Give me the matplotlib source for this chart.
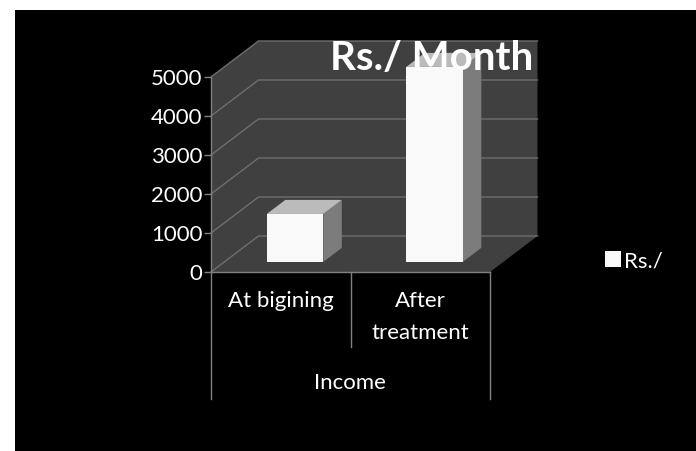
import matplotlib
matplotlib.use("Agg")
import matplotlib.pyplot as plt
from matplotlib.patches import Polygon, Rectangle, Patch

categories = ["At bigining", "After\ntreatment"]
group_label = "Income"
series_name = "Rs./"
values = [1230, 5000]
y_ticks = [0, 1000, 2000, 3000, 4000, 5000]
title = "Rs./ Month"

W, H = 696, 451
plt.rcParams["font.family"] = ["Lato", "DejaVu Sans"]

WALL = "#404040"
GRID = "#6e6e6e"
AXIS = "#808080"

fig = plt.figure(figsize=(W / 100, H / 100), dpi=100, facecolor="white")
fig.patches.append(Rectangle((15 / W, 0), 1 - 15 / W, 1 - 10 / H, transform=fig.transFigure,
                             facecolor="black", edgecolor="none", zorder=-1))

# the axes is the front plane of the 3d box
ax = fig.add_axes([211 / W, 1 - 272 / H, 279 / W, 195 / H])
ax.set_xlim(0, 2)
ax.set_ylim(0, 5000)
ax.patch.set_visible(False)
for s in ax.spines.values():
    s.set_visible(False)

# oblique depth: data units per unit of z
DX = 47.5 / 279 * 2
DY = 36 / 195 * 5000


def pr(x, y, z):
    return (x + z * DX, y + z * DY)


def face(points, color, zorder, lw=0):
    ax.add_patch(Polygon([pr(*p) for p in points], closed=True, facecolor=color,
                         edgecolor=color, linewidth=lw, clip_on=False, zorder=zorder))


top = y_ticks[-1]
# walls and floor as one outline, separate faces leave a seam
face([(0, 0, 0), (0, top, 0), (0, top, 1), (2, top, 1), (2, 0, 1), (2, 0, 0)], WALL, 1)

for t in y_ticks:
    xs, ys = zip(pr(0, t, 0), pr(0, t, 1), pr(2, t, 1))
    ax.plot(xs, ys, color=GRID, lw=1, clip_on=False, zorder=2)
ax.plot([0, 0], [0, top], color=AXIS, lw=1, clip_on=False, zorder=3)
ax.plot([0, 2], [0, 0], color=AXIS, lw=1, clip_on=False, zorder=3)

# bars
bar_w = 0.405
z0, z1 = 0.28, 0.67
for i, v in enumerate(values):
    x0 = i + 0.507 - bar_w / 2
    x1 = i + 0.507 + bar_w / 2
    face([(x1, 0, z0), (x1, 0, z1), (x1, v, z1), (x1, v, z0)], "#7c7c7c", 4)
    face([(x0, v, z0), (x1, v, z0), (x1, v, z1), (x0, v, z1)], "#bbbbbb", 4)
    face([(x0, 0, z0), (x1, 0, z0), (x1, v, z0), (x0, v, z0)], "#f9f9f9", 5)

ax.set_yticks(y_ticks)
ax.set_xticks([])
ax.tick_params(axis="y", colors=AXIS, length=5, width=1, pad=1, labelsize=16, labelcolor="white")

# multi level category axis below the plot
to = ax.get_xaxis_transform()
for x, b in [(0, -127 / 195), (1, -75 / 195), (2, -127 / 195)]:
    ax.plot([x, x], [0, b], color=AXIS, lw=1, transform=to, clip_on=False, zorder=3)
for i, c in enumerate(categories):
    ax.text(i + 0.5, -19 / 195, c, transform=to, color="white", fontsize=16, ha="center", va="top",
            linespacing=1.72)
ax.text(1 - 0.005, -111 / 195, group_label, transform=to, color="white", fontsize=16, ha="center", va="center")

fig.text(431.5 / W, 1 - 58 / H, title, color="white", fontsize=29, fontweight="bold",
         ha="center", va="center", zorder=10)

leg = fig.legend(handles=[Patch(facecolor="#f9f9f9", label=series_name)], loc="center left",
                 bbox_to_anchor=(605 / W, 1 - 261 / H), frameon=False, fontsize=16, labelcolor="white",
                 handlelength=0.7, handleheight=0.7, handletextpad=0.15, borderpad=0, borderaxespad=0)

fig.savefig("out.png", dpi=100, facecolor="white")
